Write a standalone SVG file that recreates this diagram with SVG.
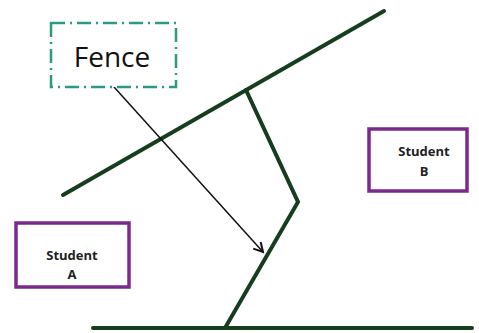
<svg xmlns="http://www.w3.org/2000/svg" width="479" height="333" viewBox="0 0 479 333">
<defs>
<style>
.wall{stroke:#173d1f;stroke-width:4;fill:none;stroke-linecap:round;stroke-linejoin:miter}
.stud{fill:#fff;stroke:#7b2a8c;stroke-width:3.5}
.st{font-family:"Open Sans","Liberation Sans",sans-serif;font-weight:bold;font-size:13px;fill:#222;text-anchor:middle}
</style>
<marker id="ah" viewBox="0 0 12 12" refX="10" refY="6" markerWidth="12" markerHeight="12" markerUnits="userSpaceOnUse" orient="auto">
<path d="M1,1 L10,6 L1,11" fill="none" stroke="#111" stroke-width="2"/>
</marker>
</defs>
<rect width="479" height="333" fill="#fff"/>
<g id="connectors">
<line class="wall" x1="63" y1="195" x2="384" y2="11"/>
<polyline class="wall" points="246,90 298,202 225,328"/>
<line class="wall" x1="93" y1="328" x2="472" y2="328"/>
<line x1="114" y1="87" x2="263" y2="252" stroke="#111" stroke-width="1.5" marker-end="url(#ah)"/>
</g>
<g id="fence">
<rect x="51" y="23" width="125" height="64" fill="#fff" stroke="#2a9a80" stroke-width="2.5" stroke-dasharray="14,5,2,5"/>
<text x="112" y="67" font-family="Open Sans,Liberation Sans,sans-serif" font-size="28" fill="#111" text-anchor="middle">Fence</text>
</g>
<g id="studentA">
<rect class="stud" x="16" y="223" width="113" height="64"/>
<text class="st" x="72" y="260">Student</text>
<text class="st" x="72" y="279">A</text>
</g>
<g id="studentB">
<rect class="stud" x="369" y="129" width="98" height="62"/>
<text class="st" x="424" y="156">Student</text>
<text class="st" x="424" y="176">B</text>
</g>
</svg>
